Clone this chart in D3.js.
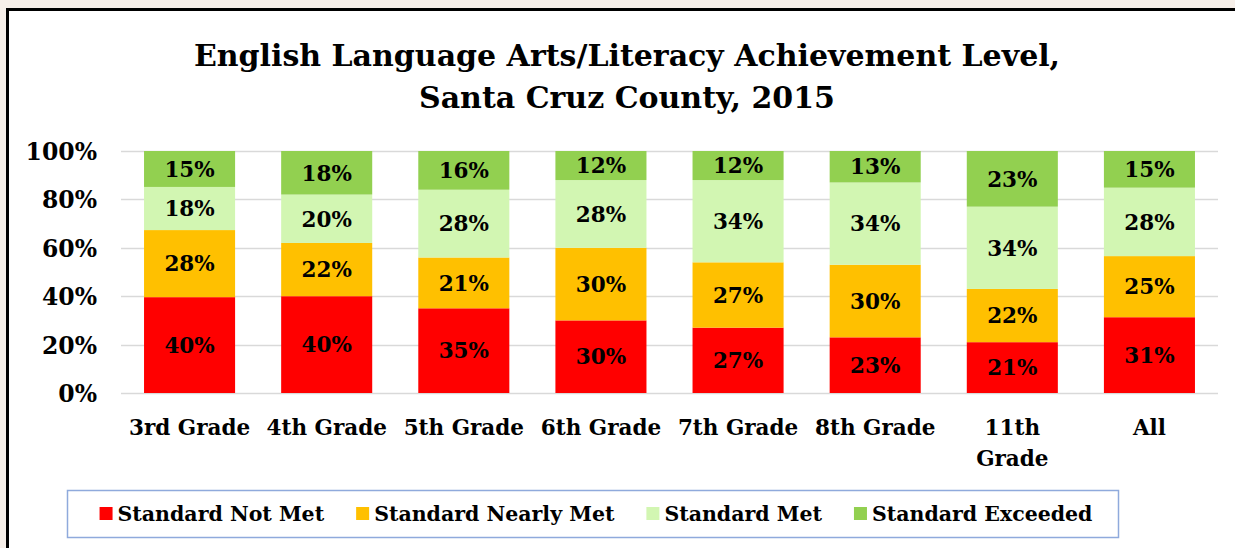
<!DOCTYPE html>
<html>
<head>
<meta charset="utf-8">
<script src="https://cdn.jsdelivr.net/npm/d3@7"></script>
<style>
  html, body { margin: 0; padding: 0; background: #f6efe9; }
  svg { display: block; }
  text { font-family: "DejaVu Serif", serif; font-weight: bold; fill: #000; }
</style>
</head>
<body>
<div id="chart"></div>
<script>
// categories and series (percent of students)
var grades = ["3rd Grade", "4th Grade", "5th Grade", "6th Grade", "7th Grade", "8th Grade", "11th Grade", "All"];
var notMet    = [40, 40, 35, 30, 27, 23, 21, 31];
var nearlyMet = [28, 22, 21, 30, 27, 30, 22, 25];
var met       = [18, 20, 28, 28, 34, 34, 34, 28];
var exceeded  = [15, 18, 16, 12, 12, 13, 23, 15];
var seriesNames = ["Standard Not Met", "Standard Nearly Met", "Standard Met", "Standard Exceeded"];
var seriesColors = ["#ff0000", "#ffc000", "#d2f6b2", "#92d050"];
var yTicks = [0, 20, 40, 60, 80, 100];

var W = 1235, H = 548;
var margin = {top: 151, right: 17, bottom: 155, left: 121};
var width = W - margin.left - margin.right,
    height = H - margin.top - margin.bottom;

// build a table for d3.stack
var keys = ["notMet", "nearlyMet", "met", "exceeded"];
var table = grades.map(function(g, i) {
    return {grade: g, notMet: notMet[i], nearlyMet: nearlyMet[i], met: met[i], exceeded: exceeded[i]};
});
var stacked = d3.stack().keys(keys).offset(d3.stackOffsetExpand)(table);

var svg = d3.select("#chart").append("svg")
    .attr("width", W)
    .attr("height", H);

// white chart area with black frame (frame runs off the right/bottom edge)
svg.append("rect")
    .attr("x", 7.5).attr("y", 9.5)
    .attr("width", W + 20).attr("height", H + 20)
    .attr("fill", "#fff")
    .attr("stroke", "#000")
    .attr("stroke-width", 3);

// title
var title = svg.append("text")
    .attr("text-anchor", "middle")
    .style("font-size", "30px");
title.append("tspan").attr("x", 627).attr("y", 66).text("English Language Arts/Literacy Achievement Level,");
title.append("tspan").attr("x", 627).attr("y", 108).text("Santa Cruz County, 2015");

var g = svg.append("g")
    .attr("transform", "translate(" + margin.left + "," + margin.top + ")");

var x = d3.scaleBand()
    .domain(grades)
    .range([0, width])
    .paddingInner(0.336)
    .paddingOuter(0.168);

var y = d3.scaleLinear()
    .domain([0, 1])
    .range([height, 0]);

// gridlines
g.append("g")
    .selectAll("line")
    .data(yTicks)
    .join("line")
    .attr("x1", 0).attr("x2", width)
    .attr("y1", function(d) { return Math.round(y(d / 100)) + 0.5; })
    .attr("y2", function(d) { return Math.round(y(d / 100)) + 0.5; })
    .attr("stroke", "#d9d9d9")
    .attr("stroke-width", 1.5);

// y axis labels
var yAxis = g.append("g")
    .call(d3.axisLeft(y).tickValues(yTicks.map(function(d) { return d / 100; }))
        .tickFormat(function(d) { return Math.round(d * 100) + "%"; })
        .tickSize(0).tickPadding(24));
yAxis.select(".domain").remove();
yAxis.selectAll("text")
    .style("font-size", "23.5px")
    .style("font-family", "DejaVu Serif, serif")
    .style("font-weight", "bold")
    .attr("dy", "0.36em");

// bars
var layers = g.selectAll(".layer")
    .data(stacked)
    .join("g")
    .attr("class", "layer")
    .attr("fill", function(d, i) { return seriesColors[i]; });

layers.selectAll("rect")
    .data(function(d) { return d; })
    .join("rect")
    .attr("x", function(d) { return x(d.data.grade); })
    .attr("y", function(d) { return y(d[1]); })
    .attr("height", function(d) { return y(d[0]) - y(d[1]); })
    .attr("width", x.bandwidth());

// value labels
layers.selectAll("text")
    .data(function(d) { return d.map(function(v) { return {v: v, key: d.key}; }); })
    .join("text")
    .attr("text-anchor", "middle")
    .attr("x", function(d) { return x(d.v.data.grade) + x.bandwidth() / 2; })
    .attr("y", function(d) { return (y(d.v[0]) + y(d.v[1])) / 2; })
    .attr("dy", "0.36em")
    .style("font-size", "21.5px")
    .text(function(d) { return d.v.data[d.key] + "%"; });

// x axis labels (wrap "11th Grade")
var xAxis = g.append("g")
    .attr("transform", "translate(0," + height + ")")
    .call(d3.axisBottom(x).tickSize(0).tickPadding(0));
xAxis.select(".domain").remove();
xAxis.selectAll("text").remove();
xAxis.selectAll(".tick").each(function(d) {
    var t = d3.select(this).append("text")
        .attr("text-anchor", "middle")
        .style("font-size", "21.5px");
    var lines = d === "11th Grade" ? ["11th", "Grade"] : [d];
    lines.forEach(function(l, i) {
        t.append("tspan").attr("x", 0).attr("y", 42 + i * 31).text(l);
    });
});

// legend
var legBox = {x: 67.5, y: 490.5, w: 1051, h: 47};
svg.append("rect")
    .attr("x", legBox.x).attr("y", legBox.y)
    .attr("width", legBox.w).attr("height", legBox.h)
    .attr("fill", "#fff")
    .attr("stroke", "#8faadc")
    .attr("stroke-width", 1.5);

var leg = svg.append("g");
var cx = 0;
seriesNames.forEach(function(name, i) {
    var item = leg.append("g").attr("transform", "translate(" + cx + ",0)");
    item.append("rect")
        .attr("x", 0).attr("y", -14)
        .attr("width", 13).attr("height", 13)
        .attr("fill", seriesColors[i]);
    var t = item.append("text")
        .attr("x", 18).attr("y", 0)
        .style("font-size", "20.5px")
        .text(name);
    cx += 18 + t.node().getComputedTextLength() + 32;
});
var legW = cx - 32;
leg.attr("transform", "translate(" + (legBox.x + legBox.w / 2 - legW / 2 + 3) + ",521)");
</script>
</body>
</html>
